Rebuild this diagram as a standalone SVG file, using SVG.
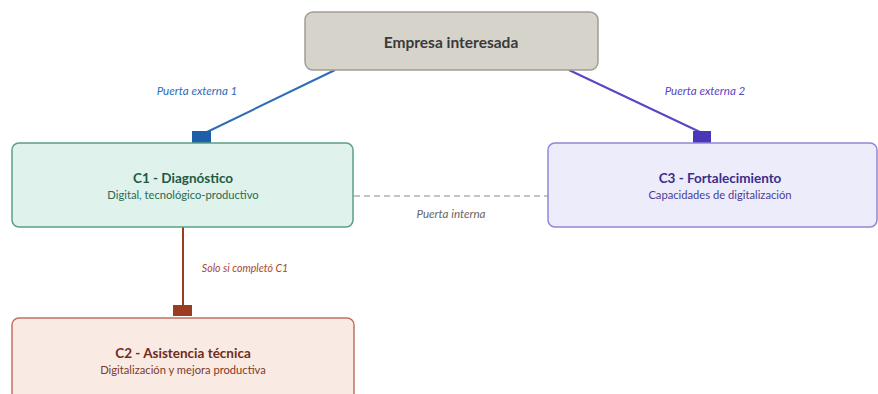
<svg xmlns="http://www.w3.org/2000/svg" width="878" height="394" viewBox="0 0 878 394">
<style>
text{font-family:Lato,"Noto Sans","Liberation Sans",sans-serif;text-anchor:middle}
.t{font-weight:bold;font-size:13.5px}
.s{font-size:11.2px}
.l{font-style:italic;font-size:11.6px}
.box{stroke-width:1.5}
</style>
<rect width="878" height="394" fill="#ffffff"/>
<g id="connectors">
<line x1="335" y1="70" x2="207" y2="132" stroke="#2f6db5" stroke-width="2"/>
<rect x="192" y="131" width="19" height="12" fill="#1f5ea8"/>
<text class="l" x="197" y="95" fill="#2f6db5">Puerta externa 1</text>
<line x1="569" y1="70" x2="700" y2="132" stroke="#5a45c2" stroke-width="2"/>
<rect x="693" y="131" width="18" height="12" fill="#4a36b8"/>
<text class="l" x="705" y="95" fill="#5a45c2">Puerta externa 2</text>
<line x1="354" y1="196" x2="548" y2="196" stroke="#8a8a8a" stroke-width="1.2" stroke-dasharray="6,4"/>
<text class="l" x="451" y="218" fill="#666666">Puerta interna</text>
<line x1="183" y1="227" x2="183" y2="306" stroke="#9a3b22" stroke-width="2"/>
<rect x="173" y="305" width="19" height="11" fill="#9a3b22"/>
<text class="l" x="245" y="272" fill="#a8482d" style="font-size:10.6px">Solo si completó C1</text>
</g>
<g id="empresa">
<rect class="box" x="305" y="12" width="293" height="58" rx="8" fill="#d6d3cb" stroke="#a19d95"/>
<text class="t" x="451" y="48" fill="#3a3a3a" style="font-size:15.5px">Empresa interesada</text>
</g>
<g id="c1">
<rect class="box" x="12" y="143" width="341" height="84" rx="7" fill="#dff2eb" stroke="#5c9f87"/>
<text class="t" x="183" y="183" fill="#1d5a44">C1 - Diagnóstico</text>
<text class="s" x="183" y="199" fill="#2a6a53">Digital, tecnológico-productivo</text>
</g>
<g id="c3">
<rect class="box" x="548" y="143" width="329" height="84" rx="7" fill="#edecfb" stroke="#8e86d8"/>
<text class="t" x="720" y="183" fill="#3b2d8a">C3 - Fortalecimiento</text>
<text class="s" x="720" y="199" fill="#4a3d96">Capacidades de digitalización</text>
</g>
<g id="c2">
<rect class="box" x="12" y="318" width="342" height="90" rx="7" fill="#f9eae4" stroke="#c27360"/>
<text class="t" x="183" y="358" fill="#6e2c1c">C2 - Asistencia técnica</text>
<text class="s" x="183" y="374" fill="#7d3a28">Digitalización y mejora productiva</text>
</g>
</svg>
